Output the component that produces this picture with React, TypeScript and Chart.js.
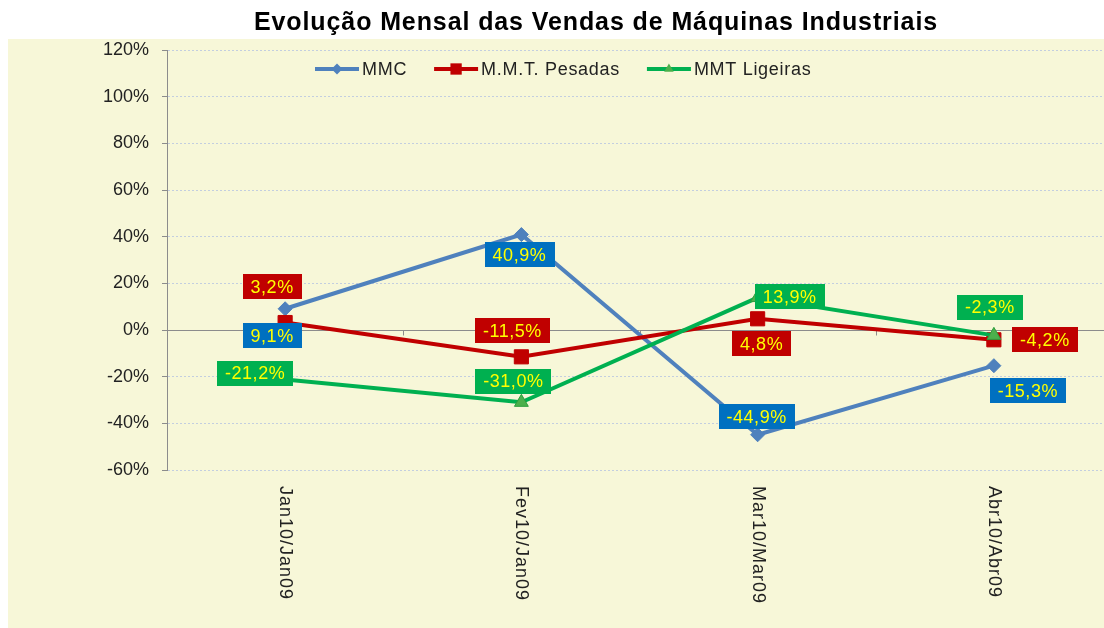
import React, { useEffect, useRef } from 'react';
import { Chart, registerables } from 'chart.js';

Chart.register(...registerables);

// ---- data ----
const categories = ['Jan10/Jan09', 'Fev10/Jan09', 'Mar10/Mar09', 'Abr10/Abr09'];
const seriesNames = ['MMC', 'M.M.T. Pesadas', 'MMT Ligeiras'];
const mmcValues = [9.1, 40.9, -44.9, -15.3];
const pesadasValues = [3.2, -11.5, 4.8, -4.2];
const ligeirasValues = [-21.2, -31.0, 13.9, -2.3];
const yTickValues = [-60, -40, -20, 0, 20, 40, 60, 80, 100, 120];
const titleText = 'Evolução Mensal das Vendas de Máquinas Industriais';

// ---- styles ----
const FONT = '"Liberation Sans", Arial, sans-serif';
const lineColors = ['#4F81BD', '#C00000', '#00B050'];
const boxColors = ['#0070C0', '#C00000', '#00B050'];
const pointStyles = ['rectRot', 'rect', 'triangle'];
const pointRadii = [7, 10, 8];
// label box centre offsets (px) relative to each point
const labelOffsets = [
  [[-13, 27], [-2, 20], [-1, -18], [34, 25]],
  [[-13, -36], [-9, -26], [4, 25], [51, 0]],
  [[-30, -6], [-8, -21], [32, -1], [-4, -28]],
];

const fmt = (v: number) => v.toFixed(1).replace('.', ',') + '%';

const setSpacing = (ctx: any, v: string) => {
  try { ctx.letterSpacing = v; } catch (e) { /* ignore */ }
};

const drawMarker = (ctx: CanvasRenderingContext2D, style: string, x: number, y: number, r: number, color: string) => {
  ctx.save();
  ctx.fillStyle = color;
  ctx.beginPath();
  if (style === 'rectRot') {
    ctx.moveTo(x - r, y);
    ctx.lineTo(x, y - r);
    ctx.lineTo(x + r, y);
    ctx.lineTo(x, y + r);
  } else if (style === 'rect') {
    const s = r * Math.SQRT1_2;
    ctx.rect(x - s, y - s, 2 * s, 2 * s);
  } else {
    ctx.moveTo(x, y - r);
    ctx.lineTo(x + r * Math.sin(Math.PI / 3), y + r / 2);
    ctx.lineTo(x - r * Math.sin(Math.PI / 3), y + r / 2);
  }
  ctx.closePath();
  ctx.fill();
  ctx.restore();
};

const customPlugin = {
  id: 'custom',
  beforeDraw(chart: any) {
    const { ctx, width, height } = chart;
    ctx.save();
    ctx.fillStyle = '#ffffff';
    ctx.fillRect(0, 0, width, height);
    ctx.fillStyle = '#F7F7D8';
    ctx.fillRect(0, 31, width, height - 31);
    // title
    ctx.fillStyle = '#000000';
    ctx.font = `bold 25px ${FONT}`;
    setSpacing(ctx, '0.9px');
    ctx.textAlign = 'center';
    ctx.textBaseline = 'middle';
    ctx.fillText(titleText, 588, 15);
    setSpacing(ctx, '0px');
    ctx.restore();
  },
  beforeDatasetsDraw(chart: any) {
    const { ctx, chartArea, scales } = chart;
    const x = scales.x;
    const y = scales.y;
    const y0 = Math.round(y.getPixelForValue(0)) + 0.5;
    ctx.save();
    ctx.strokeStyle = '#8C8C8C';
    ctx.lineWidth = 1;
    ctx.beginPath();
    ctx.moveTo(chartArea.left, y0);
    ctx.lineTo(chartArea.right, y0);
    const step = x.getPixelForValue(1) - x.getPixelForValue(0);
    for (let i = 0; i <= categories.length; i++) {
      const px = Math.round(x.getPixelForValue(i) - step / 2) + 0.5;
      ctx.moveTo(px, y0);
      ctx.lineTo(px, y0 + 5);
    }
    ctx.stroke();
    ctx.restore();
  },
  afterDatasetsDraw(chart: any) {
    const { ctx } = chart;
    ctx.save();
    ctx.font = `18px ${FONT}`;
    setSpacing(ctx, '0.5px');
    ctx.textAlign = 'center';
    ctx.textBaseline = 'middle';
    chart.data.datasets.forEach((ds: any, di: number) => {
      const meta = chart.getDatasetMeta(di);
      meta.data.forEach((pt: any, i: number) => {
        const txt = fmt(ds.data[i]);
        const w = ctx.measureText(txt).width + 16;
        const h = 25;
        const cx = pt.x + labelOffsets[di][i][0];
        const cy = pt.y + labelOffsets[di][i][1];
        ctx.fillStyle = boxColors[di];
        ctx.fillRect(Math.round(cx - w / 2), Math.round(cy - h / 2), Math.round(w), h);
        ctx.fillStyle = '#FFFF00';
        ctx.fillText(txt, cx, cy + 1);
      });
    });
    setSpacing(ctx, '0px');
    ctx.restore();
  },
  afterDraw(chart: any) {
    const { ctx, scales } = chart;
    const x = scales.x;
    ctx.save();
    // rotated category labels
    ctx.font = `18px ${FONT}`;
    ctx.fillStyle = '#222222';
    ctx.textAlign = 'left';
    ctx.textBaseline = 'middle';
    setSpacing(ctx, '1px');
    categories.forEach((c, i) => {
      ctx.save();
      ctx.translate(x.getPixelForValue(i), 478);
      ctx.rotate(Math.PI / 2);
      ctx.fillText(c, 0, 0);
      ctx.restore();
    });
    // legend
    setSpacing(ctx, '0.7px');
    let lx = 307;
    const ly = 61;
    ctx.font = `18px ${FONT}`;
    seriesNames.forEach((name, i) => {
      ctx.strokeStyle = lineColors[i];
      ctx.lineWidth = 4;
      ctx.beginPath();
      ctx.moveTo(lx, ly);
      ctx.lineTo(lx + 44, ly);
      ctx.stroke();
      drawMarker(ctx, pointStyles[i], lx + 22, ly, i === 1 ? 8 : 5.5, i === 2 ? '#4CB04C' : lineColors[i]);
      ctx.fillStyle = '#222222';
      ctx.textAlign = 'left';
      ctx.textBaseline = 'middle';
      ctx.fillText(name, lx + 47, ly + 1);
      lx += 47 + ctx.measureText(name).width + 27;
    });
    setSpacing(ctx, '0px');
    ctx.restore();
  },
};

export default function App() {
  const canvasRef = useRef<HTMLCanvasElement | null>(null);

  useEffect(() => {
    if (!canvasRef.current) return;
    const seriesValues = [mmcValues, pesadasValues, ligeirasValues];
    const chart = new Chart(canvasRef.current, {
      type: 'line',
      data: {
        labels: categories,
        datasets: seriesValues.map((vals, i) => ({
          label: seriesNames[i],
          data: vals,
          borderColor: lineColors[i],
          backgroundColor: i === 2 ? '#4CB04C' : lineColors[i],
          pointBorderColor: i === 2 ? '#2E9E3E' : lineColors[i],
          borderWidth: 4,
          pointBorderWidth: 1,
          pointStyle: pointStyles[i] as any,
          pointRadius: pointRadii[i],
          tension: 0,
          order: 2 - i,
        })),
      },
      options: {
        animation: false,
        responsive: false,
        events: [],
        layout: { padding: { top: 42, left: 0, right: 1, bottom: 158 } },
        plugins: {
          legend: { display: false },
          tooltip: { enabled: false },
          title: { display: false },
        },
        scales: {
          x: {
            type: 'category',
            display: false,
            offset: true,
          },
          y: {
            min: -60,
            max: 120,
            afterBuildTicks: (s: any) => {
              s.ticks = yTickValues.map((v) => ({ value: v }));
            },
            afterFit: (s: any) => {
              s.width = 159;
            },
            ticks: {
              callback: (v: any) => v + '%',
              color: '#222222',
              font: { family: FONT, size: 18 },
              padding: 13,
            },
            grid: {
              color: '#C3CEDF',
              lineWidth: 1,
              tickLength: 5,
              tickColor: '#8C8C8C',
              tickWidth: 1,
            },
            border: { color: '#8C8C8C', width: 1, dash: [2, 2] },
          },
        },
      },
      plugins: [customPlugin],
    });
    return () => chart.destroy();
  }, []);

  return (
    <div style={{ position: 'absolute', left: 8, top: 8, width: 1096, height: 620, overflow: 'hidden' }}>
      <canvas ref={canvasRef} width={1115} height={620} style={{ display: 'block' }} />
    </div>
  );
}
